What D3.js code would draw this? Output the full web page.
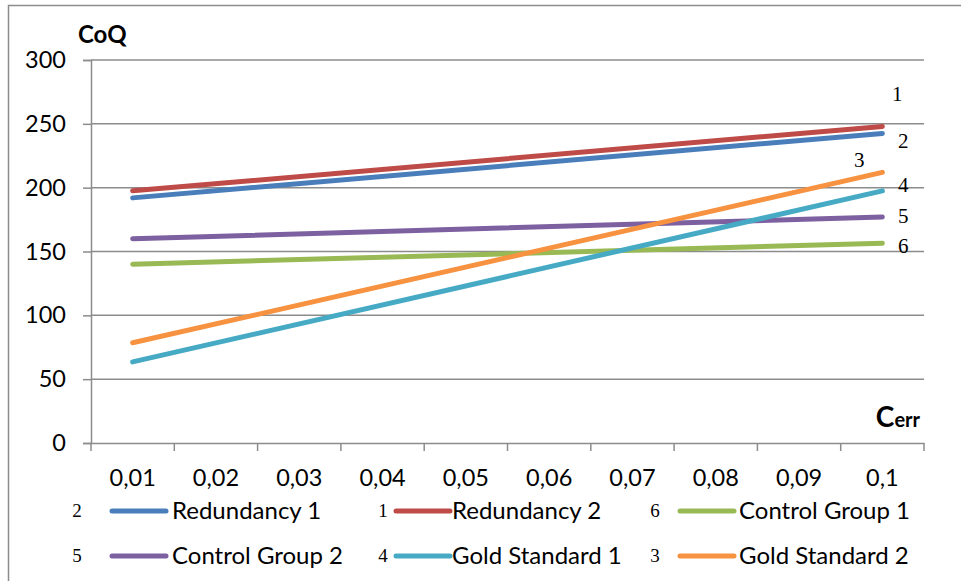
<!DOCTYPE html>
<html>
<head>
<meta charset="utf-8">
<script src="https://cdn.jsdelivr.net/npm/d3@7"></script>
<style>
  html, body { margin: 0; padding: 0; background: #fff; }
  svg { display: block; }
</style>
</head>
<body>
<svg id="chart" width="961" height="581"></svg>
<script>
// Error-rate categories along the x axis
const categories = ["0,01", "0,02", "0,03", "0,04", "0,05", "0,06", "0,07", "0,08", "0,09", "0,1"];
// Each series is a straight run from the first to the last category
const endpointCategories = ["0,01", "0,1"];
const seriesNames = ["Redundancy 1", "Redundancy 2", "Control Group 1", "Control Group 2", "Gold Standard 1", "Gold Standard 2"];
const seriesNumbers = ["2", "1", "6", "5", "4", "3"];
const redundancy1 = [192, 242.5];
const redundancy2 = [197.5, 248];
const controlGroup1 = [140, 156.5];
const controlGroup2 = [160, 177];
const goldStandard1 = [63.5, 197.5];
const goldStandard2 = [78.5, 212];
const yTicks = [0, 50, 100, 150, 200, 250, 300];
const colors = ["#4A7EBB", "#BE4B48", "#98B954", "#7D60A0", "#46AAC5", "#F69240"];

// Numbers written beside the line ends (value-space anchors)
const endLabels = [
  { text: "1", value: 274, dx: 15 },
  { text: "2", value: 237, dx: 21 },
  { text: "3", value: 222, dx: -23 },
  { text: "4", value: 202, dx: 21 },
  { text: "5", value: 178, dx: 21 },
  { text: "6", value: 154.5, dx: 21 }
];

const seriesValues = [redundancy1, redundancy2, controlGroup1, controlGroup2, goldStandard1, goldStandard2];

const svg = d3.select("#chart");
const sansFont = "Lato, 'Open Sans', sans-serif";
const serifFont = "'Liberation Serif', 'DejaVu Serif', serif";
const gridColor = "#8C8C8C";

// outer chart frame
svg.append("rect")
  .attr("x", 8.5).attr("y", 5.5)
  .attr("width", 1000).attr("height", 700)
  .attr("fill", "none").attr("stroke", "#8C8C8C").attr("stroke-width", 1.5);

const plot = { left: 91, right: 924, top: 60, bottom: 443 };

const x = d3.scaleBand().domain(categories).range([plot.left, plot.right]);
const y = d3.scaleLinear().domain([0, 300]).range([plot.bottom, plot.top]);
const xc = c => x(c) + x.bandwidth() / 2;

// horizontal gridlines
svg.append("g").selectAll("line")
  .data(yTicks.filter(t => t > 0))
  .join("line")
  .attr("x1", plot.left).attr("x2", plot.right)
  .attr("y1", d => y(d)).attr("y2", d => y(d))
  .attr("stroke", gridColor).attr("stroke-width", 1.5);

// y axis
const yAxis = svg.append("g")
  .attr("transform", `translate(${plot.left},0)`)
  .call(d3.axisLeft(y).tickValues(yTicks).tickSize(8).tickPadding(17));
yAxis.select(".domain").attr("stroke", gridColor).attr("stroke-width", 1.5);
yAxis.selectAll(".tick line").attr("stroke", gridColor).attr("stroke-width", 1.5);
yAxis.selectAll(".tick text")
  .attr("font-family", sansFont).attr("font-size", 23.5).attr("fill", "#000");

// x axis with ticks at category boundaries
const xAxis = svg.append("g")
  .attr("transform", `translate(0,${plot.bottom})`)
  .call(d3.axisBottom(x).tickSize(0).tickPadding(26));
xAxis.select(".domain").attr("stroke", gridColor).attr("stroke-width", 1.5);
xAxis.selectAll(".tick text")
  .attr("font-family", sansFont).attr("font-size", 23.5).attr("fill", "#000");
const boundaries = categories.map(c => x(c)).concat([x(categories[categories.length - 1]) + x.bandwidth()]);
xAxis.append("g").selectAll("line")
  .data(boundaries)
  .join("line")
  .attr("x1", d => d).attr("x2", d => d)
  .attr("y1", 0).attr("y2", 8)
  .attr("stroke", gridColor).attr("stroke-width", 1.5);

// series lines
const line = d3.line()
  .x((d, i) => xc(endpointCategories[i]))
  .y(d => y(d));
svg.append("g").selectAll("path")
  .data(seriesValues)
  .join("path")
  .attr("d", d => line(d))
  .attr("fill", "none")
  .attr("stroke", (d, i) => colors[i])
  .attr("stroke-width", 5)
  .attr("stroke-linecap", "round");

// numbers beside the line ends
const lastX = xc(endpointCategories[1]);
svg.append("g").selectAll("text")
  .data(endLabels)
  .join("text")
  .attr("x", d => lastX + d.dx)
  .attr("y", d => y(d.value))
  .attr("dy", "0.35em")
  .attr("text-anchor", "middle")
  .attr("font-family", serifFont)
  .attr("font-size", 21)
  .text(d => d.text);

// axis titles
svg.append("text")
  .attr("x", 78).attr("y", 43)
  .attr("font-family", sansFont).attr("font-weight", "bold").attr("font-size", 24)
  .text("CoQ");
const cerr = svg.append("text")
  .attr("x", 920).attr("y", 427)
  .attr("text-anchor", "end")
  .attr("font-family", sansFont).attr("font-weight", "bold");
cerr.append("tspan").attr("font-size", 28).text("C");
cerr.append("tspan").attr("font-size", 20).text("err");

// legend
const legendCols = [ { num: 77, line: 112, text: 172 }, { num: 383, line: 396, text: 452 }, { num: 655, line: 680, text: 739 } ];
const legendRows = [511, 556];
const legend = svg.append("g");
seriesNames.forEach((name, i) => {
  const col = legendCols[i % 3];
  const rowY = legendRows[Math.floor(i / 3)];
  legend.append("text")
    .attr("x", col.num).attr("y", rowY).attr("dy", "0.3em")
    .attr("text-anchor", "middle")
    .attr("font-family", serifFont).attr("font-size", 19)
    .text(seriesNumbers[i]);
  legend.append("line")
    .attr("x1", col.line).attr("x2", col.line + 54)
    .attr("y1", rowY).attr("y2", rowY)
    .attr("stroke", colors[i]).attr("stroke-width", 5)
    .attr("stroke-linecap", "round");
  legend.append("text")
    .attr("x", col.text).attr("y", rowY).attr("dy", "0.35em")
    .attr("font-family", sansFont).attr("font-size", 24)
    .text(name);
});
</script>
</body>
</html>
